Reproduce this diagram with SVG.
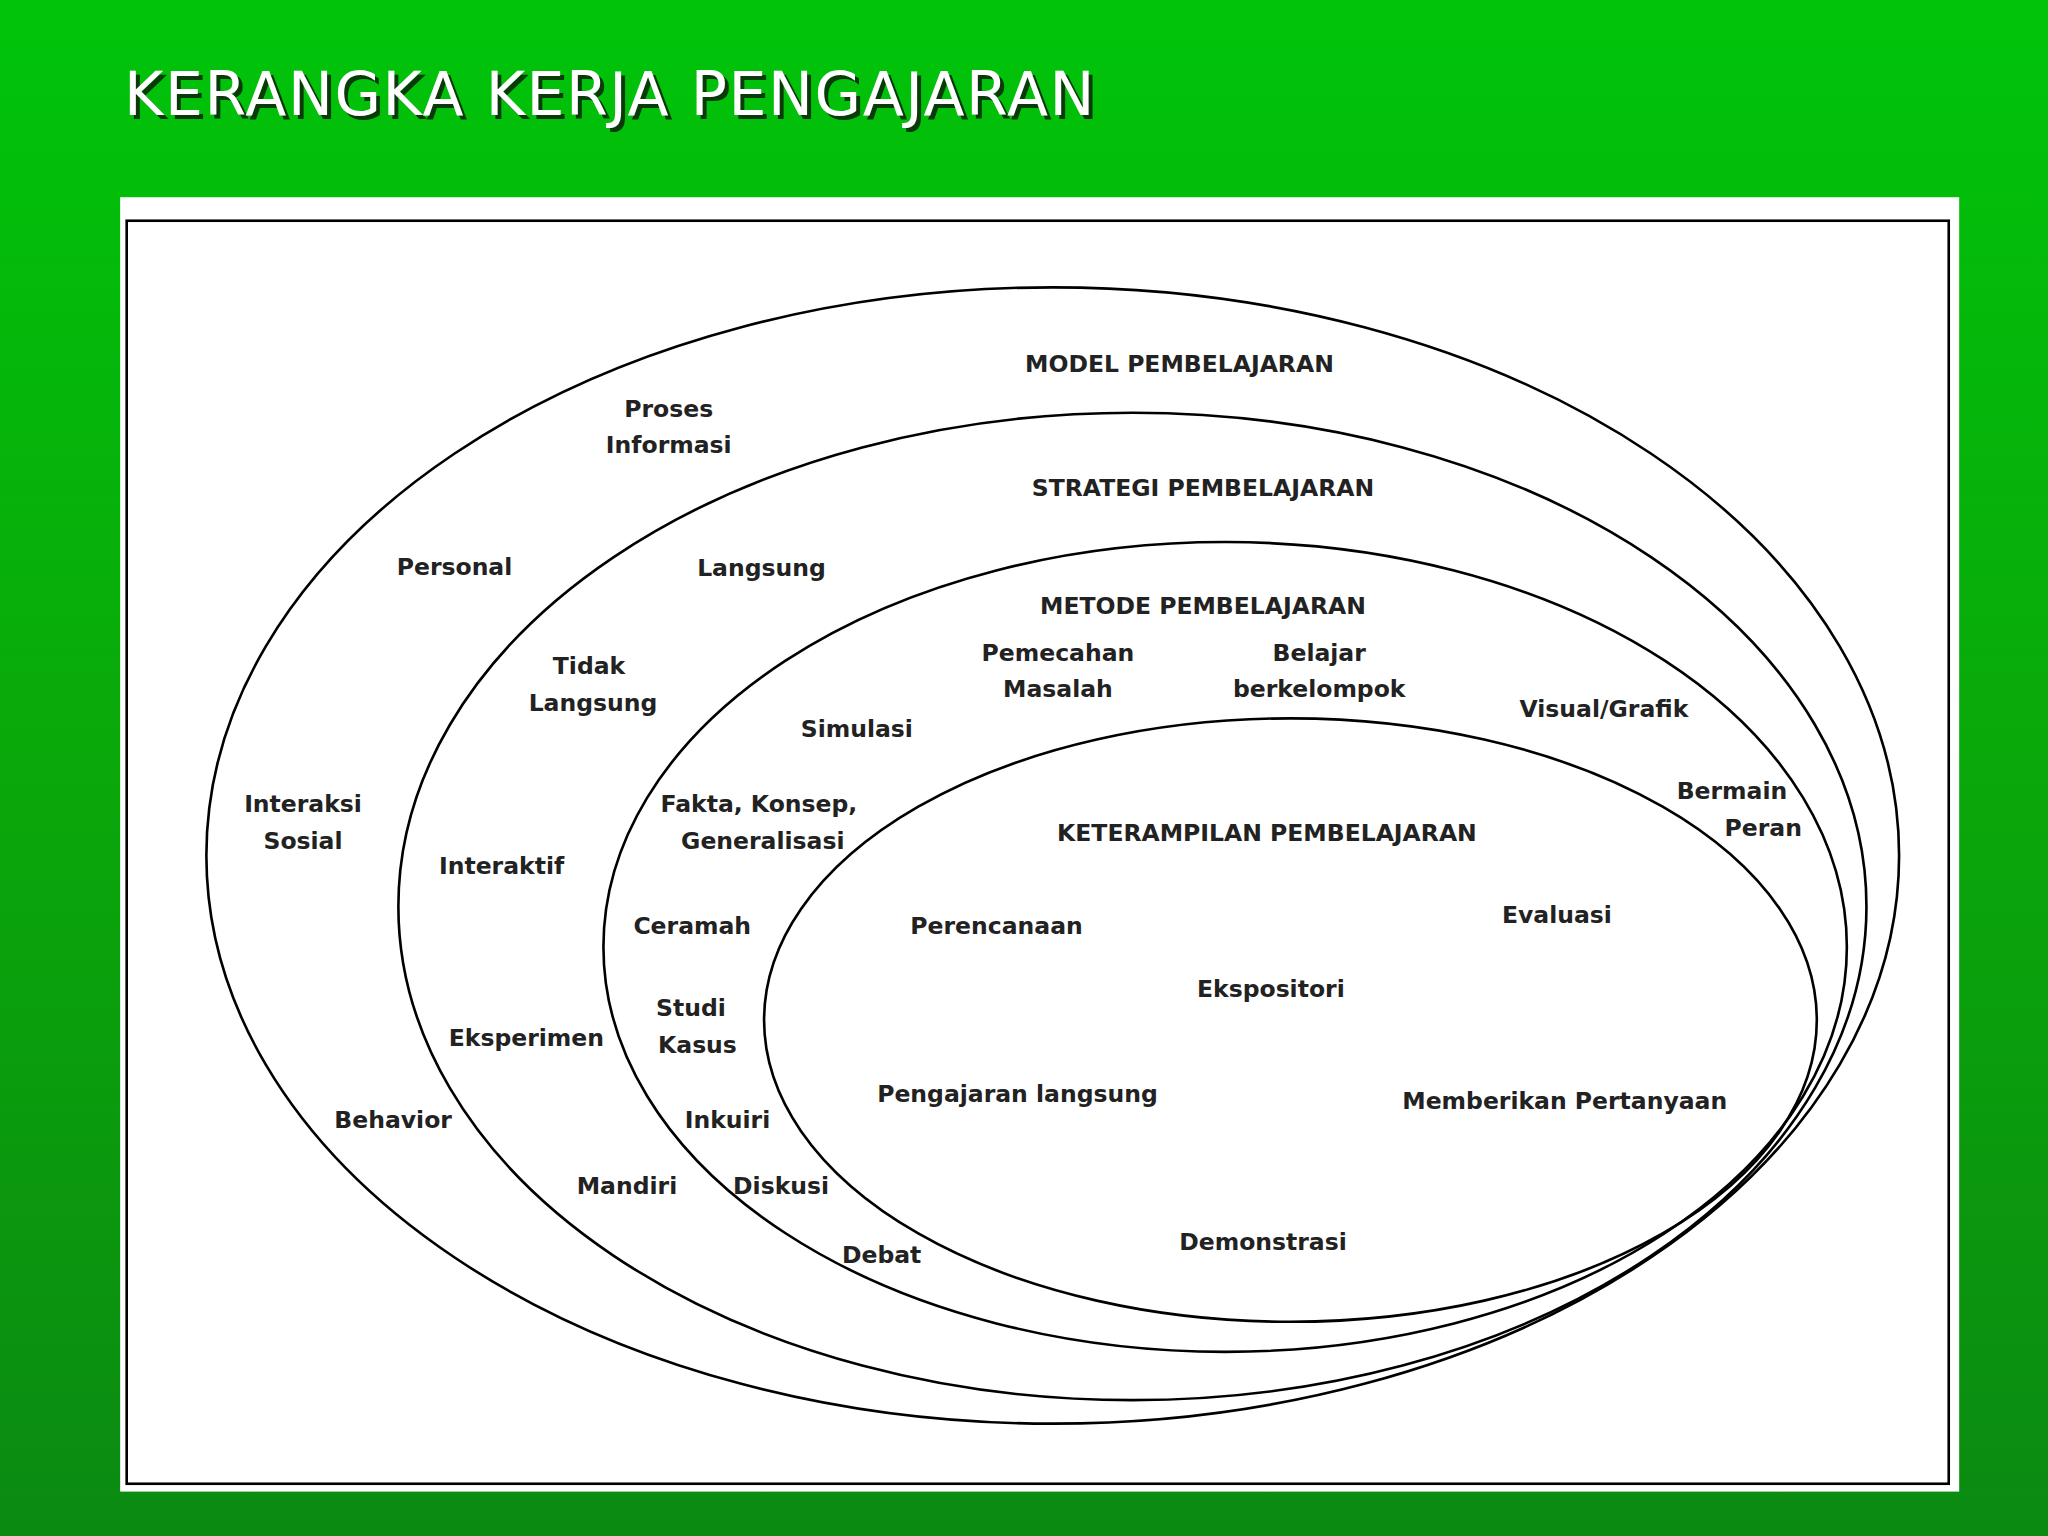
<svg xmlns="http://www.w3.org/2000/svg" width="2048" height="1536" viewBox="0 0 2048 1536">
<defs>
<linearGradient id="bg" x1="0" y1="0" x2="0" y2="1">
<stop offset="0" stop-color="#00c40a"/>
<stop offset="0.5" stop-color="#0aa80a"/>
<stop offset="1" stop-color="#0b8a12"/>
</linearGradient>
<style>
.e{fill:none;stroke:#000;stroke-width:2}
.t{font-family:"DejaVu Sans",Verdana,sans-serif;font-weight:bold;font-size:18px;fill:#222;text-anchor:middle}
.h{font-family:"DejaVu Sans",Verdana,sans-serif;font-size:46px;}
</style>
</defs>
<rect width="2048" height="1536" fill="url(#bg)"/>
<g transform="scale(1.30612)">
<g id="title">
<text class="h" x="98" y="91" fill="#0a3a0a" textLength="743">KERANGKA KERJA PENGAJARAN</text>
<text class="h" x="95" y="88" fill="#fff" textLength="743">KERANGKA KERJA PENGAJARAN</text>
</g>
<rect x="92" y="151" width="1408" height="991" fill="#fff"/>
<rect x="97" y="169" width="1395" height="967" fill="none" stroke="#000" stroke-width="2"/>
<g id="model"><ellipse class="e" cx="806" cy="655" rx="648" ry="435"/>
<text class="t" x="903" y="285">MODEL PEMBELAJARAN</text>
<text class="t" x="512" y="319">Proses</text><text class="t" x="512" y="347">Informasi</text>
<text class="t" x="348" y="440">Personal</text>
<text class="t" x="232" y="622">Interaksi</text><text class="t" x="232" y="650">Sosial</text>
<text class="t" x="301" y="864">Behavior</text>
</g>
<g id="strategi"><ellipse class="e" cx="867" cy="694" rx="562" ry="378"/>
<text class="t" x="921" y="380">STRATEGI PEMBELAJARAN</text>
<text class="t" x="583" y="441">Langsung</text>
<text class="t" x="451" y="516">Tidak</text><text class="t" x="454" y="544">Langsung</text>
<text class="t" x="384" y="669">Interaktif</text>
<text class="t" x="403" y="801">Eksperimen</text>
<text class="t" x="480" y="914">Mandiri</text>
</g>
<g id="metode"><ellipse class="e" cx="938" cy="725" rx="476" ry="310"/>
<text class="t" x="921" y="470">METODE PEMBELAJARAN</text>
<text class="t" x="810" y="506">Pemecahan</text><text class="t" x="810" y="534">Masalah</text>
<text class="t" x="1010" y="506">Belajar</text><text class="t" x="1010" y="534">berkelompok</text>
<text class="t" x="1228" y="549">Visual/Grafik</text>
<text class="t" x="656" y="564">Simulasi</text>
<text class="t" x="581" y="622">Fakta, Konsep,</text><text class="t" x="584" y="650">Generalisasi</text>
<text class="t" x="1326" y="612">Bermain</text><text class="t" x="1350" y="640">Peran</text>
<text class="t" x="530" y="715">Ceramah</text>
<text class="t" x="529" y="778">Studi</text><text class="t" x="534" y="806">Kasus</text>
<text class="t" x="557" y="864">Inkuiri</text>
<text class="t" x="598" y="914">Diskusi</text>
<text class="t" x="675" y="967">Debat</text>
</g>
<g id="keterampilan"><ellipse class="e" cx="988" cy="781" rx="403" ry="231"/>
<text class="t" x="970" y="644">KETERAMPILAN PEMBELAJARAN</text>
<text class="t" x="1192" y="707">Evaluasi</text>
<text class="t" x="763" y="715">Perencanaan</text>
<text class="t" x="973" y="763">Ekspositori</text>
<text class="t" x="779" y="844">Pengajaran langsung</text>
<text class="t" x="1198" y="849">Memberikan Pertanyaan</text>
<text class="t" x="967" y="957">Demonstrasi</text>
</g>
<g id="connectors"/>
</g>
</svg>
